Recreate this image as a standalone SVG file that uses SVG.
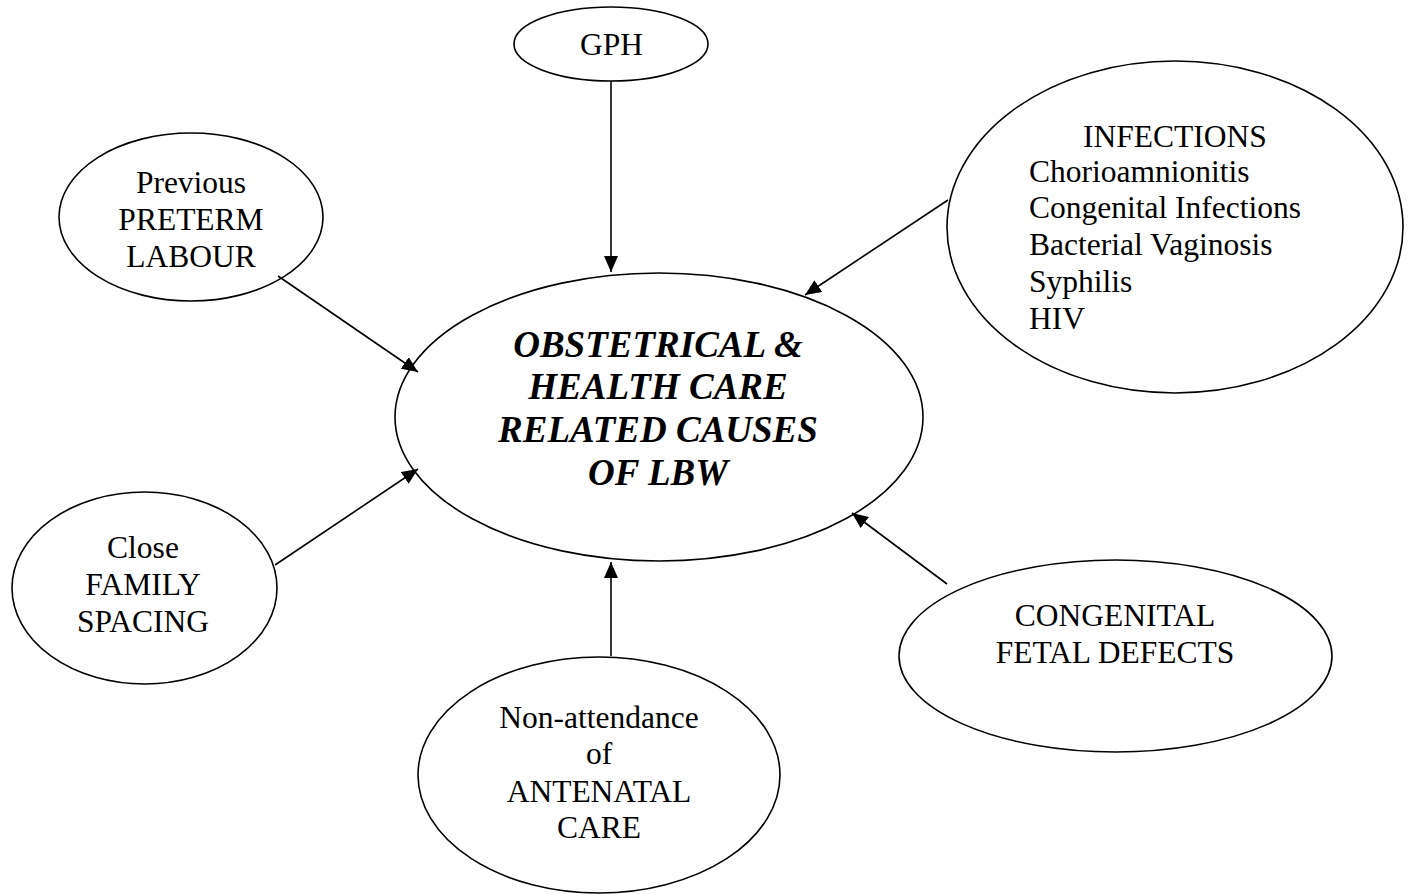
<svg xmlns="http://www.w3.org/2000/svg" width="1411" height="894" viewBox="0 0 1411 894">
  <style>
    .node ellipse { fill: #ffffff; stroke: #000000; stroke-width: 1.6; }
    .lbl { font-family: "Liberation Serif", "Times New Roman", serif; font-size: 31.5px; fill: #000000; }
    .mid { text-anchor: middle; }
    .main { font-family: "Liberation Serif", "Times New Roman", serif; font-size: 37px; font-weight: bold; font-style: italic; text-anchor: middle; fill: #000000; }
    .conn line { stroke: #000000; stroke-width: 1.6; marker-end: url(#arrow); }
  </style>
  <defs>
    <marker id="arrow" markerUnits="userSpaceOnUse" markerWidth="16" markerHeight="14" refX="16" refY="7" orient="auto">
      <path d="M0,0 L16,7 L0,14 Z" fill="#000000"/>
    </marker>
  </defs>
  <rect width="1411" height="894" fill="#ffffff"/>

  <g id="center" class="node">
    <ellipse cx="659" cy="417" rx="264" ry="144"/>
    <text class="main" x="658" y="357">OBSTETRICAL &amp;</text>
    <text class="main" x="658" y="399">HEALTH CARE</text>
    <text class="main" x="658" y="442">RELATED CAUSES</text>
    <text class="main" x="658" y="485">OF LBW</text>
  </g>

  <g id="gph" class="node">
    <ellipse cx="611" cy="44" rx="97" ry="37"/>
    <text class="lbl mid" x="611.5" y="55">GPH</text>
  </g>

  <g id="preterm" class="node">
    <ellipse cx="191" cy="217" rx="132" ry="84"/>
    <text class="lbl mid" x="191" y="193">Previous</text>
    <text class="lbl mid" x="191" y="230">PRETERM</text>
    <text class="lbl mid" x="191" y="267">LABOUR</text>
  </g>

  <g id="infections" class="node">
    <ellipse cx="1175" cy="227" rx="228" ry="166"/>
    <text class="lbl mid" x="1175" y="147">INFECTIONS</text>
    <text class="lbl" x="1029" y="182">Chorioamnionitis</text>
    <text class="lbl" x="1029" y="218">Congenital Infections</text>
    <text class="lbl" x="1029" y="255">Bacterial Vaginosis</text>
    <text class="lbl" x="1029" y="292">Syphilis</text>
    <text class="lbl" x="1029" y="329">HIV</text>
  </g>

  <g id="spacing" class="node">
    <ellipse cx="144.5" cy="588" rx="132.5" ry="96"/>
    <text class="lbl mid" x="143" y="558">Close</text>
    <text class="lbl mid" x="143" y="595">FAMILY</text>
    <text class="lbl mid" x="143" y="632">SPACING</text>
  </g>

  <g id="antenatal" class="node">
    <ellipse cx="599" cy="775" rx="181" ry="118"/>
    <text class="lbl mid" x="599" y="728">Non-attendance</text>
    <text class="lbl mid" x="599" y="764">of</text>
    <text class="lbl mid" x="599" y="802">ANTENATAL</text>
    <text class="lbl mid" x="599" y="838">CARE</text>
  </g>

  <g id="defects" class="node">
    <ellipse cx="1115.5" cy="656" rx="216.5" ry="96"/>
    <text class="lbl mid" x="1115" y="626">CONGENITAL</text>
    <text class="lbl mid" x="1115" y="663">FETAL DEFECTS</text>
  </g>

  <g id="connectors" class="conn">
    <line x1="611" y1="81" x2="611" y2="272"/>
    <line x1="278" y1="276" x2="418" y2="372"/>
    <line x1="948" y1="200" x2="805" y2="295"/>
    <line x1="275" y1="565" x2="418" y2="469"/>
    <line x1="611" y1="656" x2="611" y2="562"/>
    <line x1="947" y1="584" x2="852" y2="513"/>
  </g>
</svg>
